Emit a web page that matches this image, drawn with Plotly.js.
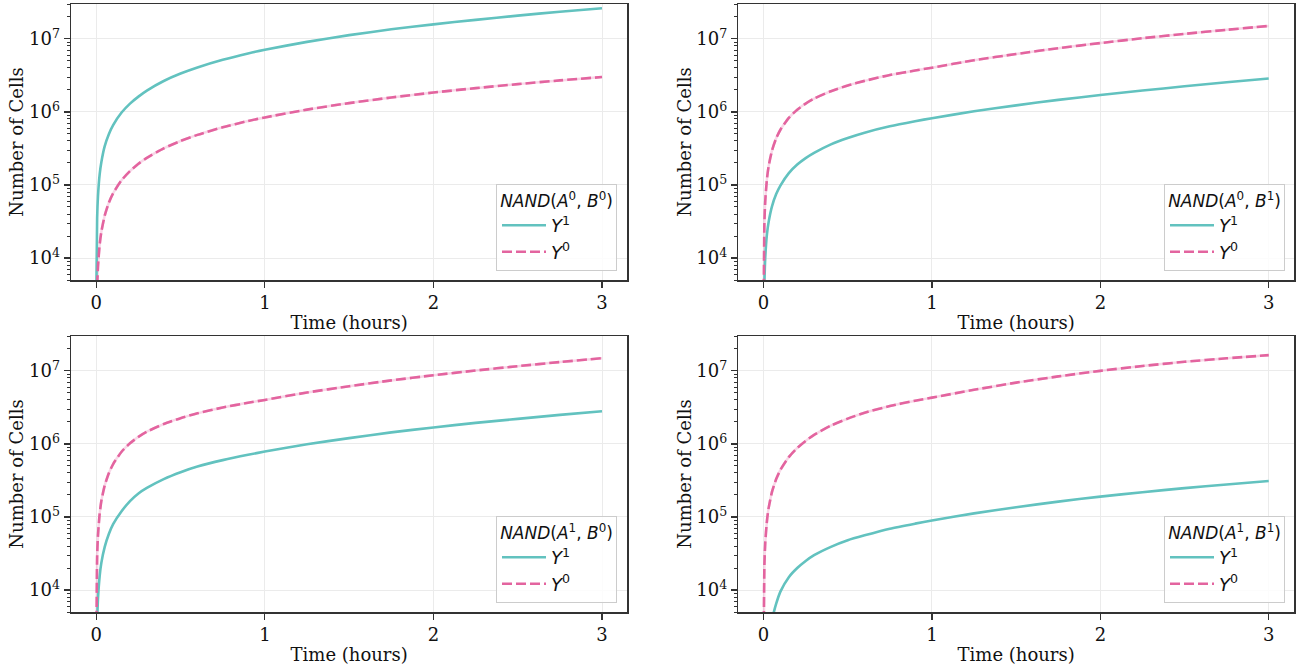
<!DOCTYPE html>
<html><head><meta charset="utf-8">
<script src="https://cdn.plot.ly/plotly-3.0.1.min.js"></script>
<style>html,body{margin:0;padding:0;background:#fff}#chart{width:1303px;height:666px}</style>
</head><body><div id="chart"></div>
<script>
// Time points (hours)
const timeHours = [0, 0.005, 0.01, 0.02, 0.03, 0.05, 0.075, 0.1, 0.15, 0.2, 0.25, 0.3, 0.4, 0.5, 0.6, 0.75, 0.9, 1, 1.25, 1.5, 1.75, 2, 2.25, 2.5, 2.75, 3];

// Panel NAND(A0,B0)
const y1_A0B0 = [3e3, 3.5e4, 7.0e4, 1.4e5, 2.05e5, 3.4e5, 5.0e5, 6.6e5, 9.8e5, 1.3e6, 1.62e6, 1.96e6, 2.65e6, 3.35e6, 4.06e6, 5.17e6, 6.32e6, 7.1e6, 9.1e6, 1.125e7, 1.35e7, 1.58e7, 1.82e7, 2.08e7, 2.35e7, 2.62e7];
const y0_A0B0 = [3e2, 3.8e3, 7.6e3, 1.52e4, 2.28e4, 3.8e4, 5.75e4, 7.7e4, 1.16e5, 1.55e5, 1.95e5, 2.35e5, 3.17e5, 4.0e5, 4.85e5, 6.15e5, 7.5e5, 8.4e5, 1.075e6, 1.32e6, 1.575e6, 1.84e6, 2.115e6, 2.4e6, 2.7e6, 3.0e6];
// Panel NAND(A0,B1)
const y1_A0B1 = [1e3, 4.5e3, 1.0e4, 2.1e4, 3.1e4, 5.1e4, 7.5e4, 9.8e4, 1.45e5, 1.9e5, 2.33e5, 2.75e5, 3.6e5, 4.4e5, 5.2e5, 6.35e5, 7.45e5, 8.2e5, 1.02e6, 1.23e6, 1.46e6, 1.7e6, 1.96e6, 2.24e6, 2.54e6, 2.86e6];
const y0_A0B1 = [1e3, 3.0e4, 6.0e4, 1.2e5, 1.8e5, 2.95e5, 4.35e5, 5.7e5, 8.3e5, 1.07e6, 1.3e6, 1.52e6, 1.92e6, 2.3e6, 2.66e6, 3.2e6, 3.68e6, 4.03e6, 5.1e6, 6.2e6, 7.45e6, 8.75e6, 1.02e7, 1.17e7, 1.33e7, 1.5e7];
// Panel NAND(A1,B0)
const y1_A1B0 = [1e3, 3.5e3, 7.5e3, 1.55e4, 2.35e4, 3.9e4, 5.9e4, 8.0e4, 1.2e5, 1.65e5, 2.1e5, 2.5e5, 3.3e5, 4.1e5, 4.9e5, 6.0e5, 7.1e5, 7.85e5, 9.9e5, 1.2e6, 1.44e6, 1.68e6, 1.94e6, 2.2e6, 2.5e6, 2.8e6];
const y0_A1B0 = [1e3, 2.8e4, 5.6e4, 1.1e5, 1.65e5, 2.7e5, 4.0e5, 5.3e5, 7.8e5, 1.02e6, 1.25e6, 1.47e6, 1.87e6, 2.25e6, 2.62e6, 3.15e6, 3.65e6, 4.0e6, 5.05e6, 6.15e6, 7.4e6, 8.7e6, 1.01e7, 1.16e7, 1.32e7, 1.49e7];
// Panel NAND(A1,B1)
const y1_A1B1 = [5e2, 6e2, 1e3, 1.9e3, 2.6e3, 4.0e3, 6.5e3, 9.5e3, 1.5e4, 2.0e4, 2.5e4, 3.0e4, 3.9e4, 4.8e4, 5.6e4, 6.9e4, 8.1e4, 8.95e4, 1.12e5, 1.36e5, 1.62e5, 1.9e5, 2.18e5, 2.48e5, 2.78e5, 3.1e5];
const y0_A1B1 = [1e3, 2.2e4, 4.4e4, 8.8e4, 1.32e5, 2.2e5, 3.3e5, 4.4e5, 6.6e5, 8.8e5, 1.1e6, 1.33e6, 1.78e6, 2.22e6, 2.67e6, 3.3e6, 3.9e6, 4.3e6, 5.5e6, 6.9e6, 8.4e6, 1.0e7, 1.165e7, 1.33e7, 1.485e7, 1.64e7];

const legendTitles = [
  '<i>NAND</i>(<i>A</i><sup>0</sup>, <i>B</i><sup>0</sup>)',
  '<i>NAND</i>(<i>A</i><sup>0</sup>, <i>B</i><sup>1</sup>)',
  '<i>NAND</i>(<i>A</i><sup>1</sup>, <i>B</i><sup>0</sup>)',
  '<i>NAND</i>(<i>A</i><sup>1</sup>, <i>B</i><sup>1</sup>)'
];
const seriesNames = ['<i>Y</i><sup>1</sup>', '<i>Y</i><sup>0</sup>'];
const xTicks = [0, 1, 2, 3];
const yTickVals = [1e4, 1e5, 1e6, 1e7];
const yTickText = ['10<sup>4</sup>', '10<sup>5</sup>', '10<sup>6</sup>', '10<sup>7</sup>'];
const xTitle = 'Time (hours)';
const yTitle = 'Number of Cells';

const panels = [[y1_A0B0, y0_A0B0], [y1_A0B1, y0_A0B1], [y1_A1B0, y0_A1B0], [y1_A1B1, y0_A1B1]];

// minor tick positions of the log axis (2..9 per decade)
const minorTicks = [];
for (let e = 3; e <= 7; e++) for (let m = 2; m <= 9; m++) minorTicks.push(m * Math.pow(10, e));

const W = 1303, H = 666;
const xDomains = [[71/W, 627.3/W], [738.3/W, 1294/W]];
const yDomains = [[1-280/H, 1-4/H], [1-612/H, 1-336/H]];
const yRange = [Math.log10(5000), Math.log10(3e7)];
const teal = '#62c2bf', pink = '#e3649f';
const pad = '\u00a0\u00a0\u00a0\u00a0\u00a0\u00a0\u00a0';

const traces = [];
const layout = {
  width: W, height: H, margin: {l:0, r:0, t:0, b:0},
  paper_bgcolor: '#fff', plot_bgcolor: '#fff', showlegend: true
};
const serif = 'DejaVu Serif, serif';
const sans = 'DejaVu Sans, sans-serif';

panels.forEach((p, i) => {
  const n = i + 1;
  const sfx = n === 1 ? '' : String(n);
  const xa = 'x' + sfx, ya = 'y' + sfx;
  const lg = 'legend' + sfx;
  const col = i % 2, row = Math.floor(i / 2);
  traces.push({x: timeHours, y: p[1], xaxis: xa, yaxis: ya, mode: 'lines', showlegend: false, hoverinfo: 'skip',
    line: {color: 'rgba(235,140,185,0.35)', width: 2.5, shape: 'spline', smoothing: 0.6}});
  traces.push({x: timeHours, y: p[0], xaxis: xa, yaxis: ya, mode: 'lines', name: seriesNames[0] + pad, legend: lg,
    line: {color: teal, width: 2.6, shape: 'spline', smoothing: 0.6}});
  traces.push({x: timeHours, y: p[1], xaxis: xa, yaxis: ya, mode: 'lines', name: seriesNames[1] + pad, legend: lg,
    line: {color: pink, width: 2.6, dash: '10px,4px', shape: 'spline', smoothing: 0.6}});
  layout['xaxis' + sfx] = {
    domain: xDomains[col], anchor: ya, range: [-0.15, 3.15], tickvals: xTicks,
    ticks: 'outside', ticklen: 6, tickwidth: 1.2, tickcolor: '#333',
    showline: true, linecolor: '#333', linewidth: 1.5, mirror: true,
    showgrid: true, gridcolor: '#ebebeb', gridwidth: 1, zeroline: false,
    tickfont: {family: serif, size: 18, color: '#111'},
    title: {text: xTitle, font: {family: serif, size: 18, color: '#111'}, standoff: 4}
  };
  layout['yaxis' + sfx] = {
    domain: yDomains[row], anchor: xa, type: 'log', range: yRange,
    tickvals: yTickVals, ticktext: yTickText,
    ticks: 'outside', ticklen: 6, tickwidth: 1.2, tickcolor: '#333',
    showline: true, linecolor: '#333', linewidth: 1.5, mirror: true,
    showgrid: true, gridcolor: '#ebebeb', gridwidth: 1, zeroline: false,
    tickfont: {family: serif, size: 18, color: '#111'},
    title: {text: yTitle, font: {family: serif, size: 18, color: '#111'}, standoff: 0}
  };
  // overlay axis carrying the log minor ticks
  layout['yaxis' + (n + 4)] = {
    overlaying: ya, anchor: xa, side: 'left', type: 'log', range: yRange,
    tickmode: 'array', tickvals: minorTicks, showticklabels: false,
    ticks: 'outside', ticklen: 3.5, tickwidth: 1, tickcolor: '#333',
    showline: false, showgrid: false, zeroline: false
  };
  layout[lg] = {
    x: col === 0 ? 617/W : 1285/W, y: row === 0 ? 1-271/H : 1-603/H,
    xanchor: 'right', yanchor: 'bottom', itemwidth: 44,
    bgcolor: 'rgba(255,255,255,0.85)', bordercolor: '#cccccc', borderwidth: 1,
    font: {family: sans, size: 18, color: '#111'},
    title: {text: legendTitles[i], side: 'top center', font: {family: sans, size: 17, color: '#111'}}
  };
});
// invisible traces so the minor-tick axes are drawn
panels.forEach((p, i) => {
  const n = i + 1, sfx = n === 1 ? '' : String(n);
  traces.push({x: [], y: [], xaxis: 'x' + sfx, yaxis: 'y' + (n + 4), mode: 'lines', showlegend: false, hoverinfo: 'skip'});
});

Plotly.newPlot('chart', traces, layout, {displayModeBar: false, staticPlot: true});
</script></body></html>
